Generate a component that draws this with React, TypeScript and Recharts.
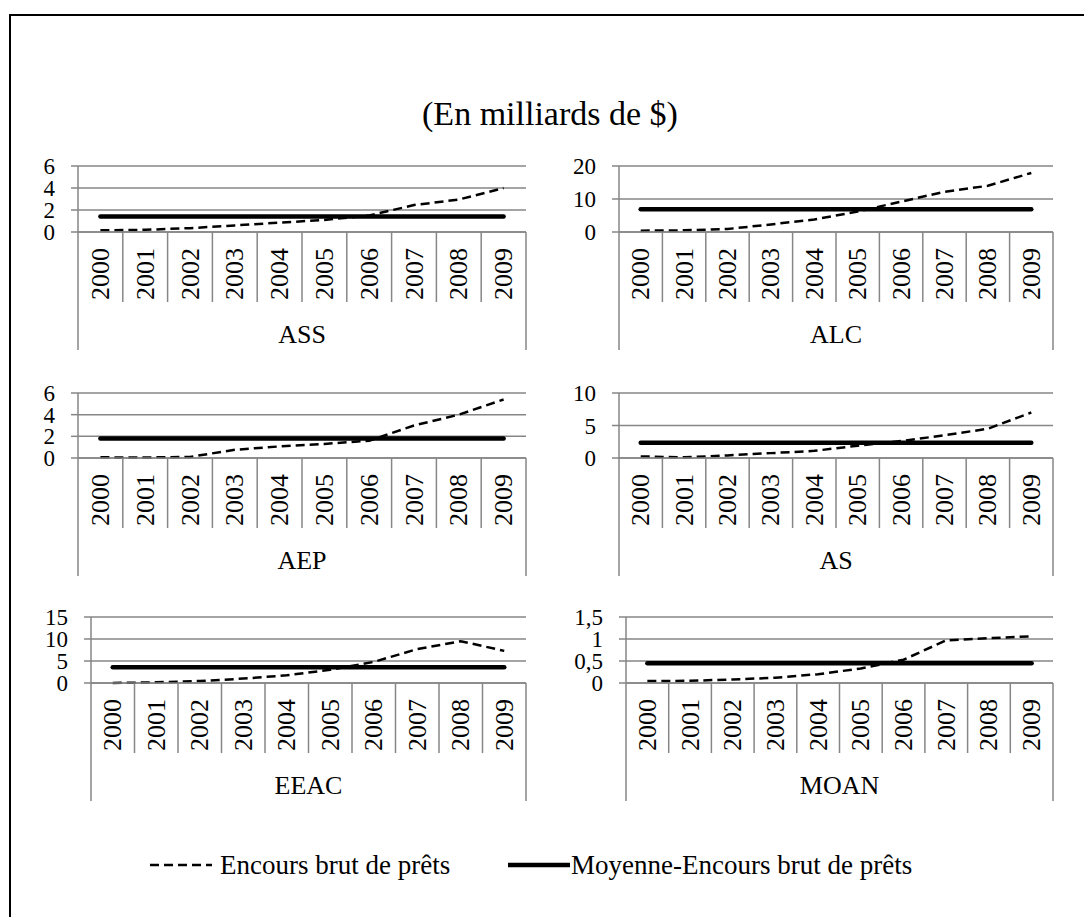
import { LineChart, Line, XAxis, YAxis, CartesianGrid } from "recharts";

const years = ["2000", "2001", "2002", "2003", "2004", "2005", "2006", "2007", "2008", "2009"];
const regions = ["ASS", "ALC", "AEP", "AS", "EEAC", "MOAN"];

// Encours brut de prêts (milliards de $)
const encoursASS = [0.15, 0.2, 0.35, 0.6, 0.85, 1.1, 1.5, 2.45, 2.95, 4.0];
const encoursALC = [0.4, 0.5, 0.9, 2.3, 3.8, 6.2, 9.2, 12.2, 14.0, 17.9];
const encoursAEP = [0.06, 0.05, 0.1, 0.76, 1.07, 1.3, 1.6, 3.0, 4.0, 5.4];
const encoursAS = [0.25, 0.1, 0.4, 0.75, 1.1, 1.9, 2.6, 3.5, 4.5, 7.0];
const encoursEEAC = [0, 0.15, 0.45, 1.0, 1.75, 3.0, 4.8, 7.7, 9.5, 7.3];
const encoursMOAN = [0.045, 0.05, 0.08, 0.12, 0.2, 0.33, 0.53, 0.97, 1.02, 1.06];
const encours = [encoursASS, encoursALC, encoursAEP, encoursAS, encoursEEAC, encoursMOAN];

// Moyenne-Encours brut de prêts
const moyennes = [1.4, 6.9, 1.8, 2.35, 3.6, 0.45];

const yTicks = [
  [0, 2, 4, 6],
  [0, 10, 20],
  [0, 2, 4, 6],
  [0, 5, 10],
  [0, 5, 10, 15],
  [0, 0.5, 1, 1.5],
];

const legendLabels = ["Encours brut de prêts", "Moyenne-Encours brut de prêts"];

// plot boxes in page pixels
const boxes = [
  { left: 78, right: 526, top: 166, bottom: 232 },
  { left: 619, right: 1053, top: 166, bottom: 232 },
  { left: 78, right: 526, top: 393, bottom: 458 },
  { left: 619, right: 1053, top: 393, bottom: 458 },
  { left: 91, right: 526, top: 617, bottom: 683 },
  { left: 626, right: 1053, top: 617, bottom: 683 },
];

const FONT = "'Liberation Serif', 'Times New Roman', serif";
const GRAY = "#868686";

const YW = 70;
const MT = 14;
const MR = 6;
const XH = 124;
const MB = 2;

function Panel({ i }: { i: number }) {
  const b = boxes[i];
  const plotW = b.right - b.left;
  const plotH = b.bottom - b.top;
  const band = plotW / 10;
  const chartW = YW + plotW + MR;
  const chartH = MT + plotH + XH + MB;
  const y0 = MT + plotH;
  const ticks = yTicks[i];
  const data = years.map((y, k) => ({
    year: y,
    encours: encours[i][k],
    moyenne: moyennes[i],
  }));

  const renderTick = (p: any) => {
    const x = p.x;
    const idx = p.index;
    const ty = y0 + 42;
    return (
      <g>
        <line x1={x - band / 2} x2={x - band / 2} y1={y0} y2={y0 + (idx === 0 ? 118 : 70)} stroke={GRAY} strokeWidth={1.5} />
        {idx === 9 && (
          <line x1={x + band / 2} x2={x + band / 2} y1={y0} y2={y0 + 118} stroke={GRAY} strokeWidth={1.5} />
        )}
        <text
          x={x}
          y={ty}
          transform={`rotate(-90, ${x}, ${ty})`}
          textAnchor="middle"
          dominantBaseline="central"
          fontSize={26}
          fontFamily={FONT}
          fill="#000"
        >
          {p.payload.value}
        </text>
        {idx === 0 && (
          <text
            x={YW + plotW / 2}
            y={y0 + 102}
            textAnchor="middle"
            dominantBaseline="central"
            fontSize={26}
            fontFamily={FONT}
            fill="#000"
          >
            {regions[i]}
          </text>
        )}
      </g>
    );
  };

  return (
    <div style={{ position: "absolute", left: b.left - YW, top: b.top - MT }}>
      <LineChart width={chartW} height={chartH} data={data} margin={{ top: MT, right: MR, left: 0, bottom: MB }}>
        <CartesianGrid vertical={false} stroke={GRAY} strokeWidth={1.5} />
        <XAxis
          dataKey="year"
          type="category"
          interval={0}
          height={XH}
          padding={{ left: band / 2, right: band / 2 }}
          axisLine={{ stroke: GRAY, strokeWidth: 1.5 }}
          tickLine={false}
          tick={renderTick}
        />
        <YAxis
          width={YW}
          domain={[0, ticks[ticks.length - 1]]}
          ticks={ticks}
          interval={0}
          tickFormatter={(v: number) => String(v).replace(".", ",")}
          tick={{ fill: "#000", fontSize: 23, fontFamily: FONT }}
          tickLine={{ stroke: GRAY, strokeWidth: 1.5 }}
          tickSize={7}
          tickMargin={16}
          axisLine={{ stroke: GRAY, strokeWidth: 1.5 }}
        />
        <Line
          dataKey="moyenne"
          stroke="#000"
          strokeWidth={4.5}
          strokeLinecap="round"
          dot={false}
          isAnimationActive={false}
        />
        <Line
          dataKey="encours"
          stroke="#000"
          strokeWidth={2.5}
          strokeDasharray="9 5"
          dot={false}
          isAnimationActive={false}
        />
      </LineChart>
    </div>
  );
}

export default function App() {
  return (
    <div
      style={{
        position: "absolute",
        left: 0,
        top: 0,
        width: 1084,
        height: 917,
        overflow: "hidden",
        background: "#fff",
        fontFamily: FONT,
      }}
    >
      <div
        style={{
          position: "absolute",
          left: 9,
          top: 14,
          width: 1200,
          height: 1000,
          borderLeft: "2px solid #000",
          borderTop: "2px solid #000",
        }}
      />
      <div
        style={{
          position: "absolute",
          left: 0,
          width: 1100,
          top: 94,
          textAlign: "center",
          fontSize: 34,
          lineHeight: "40px",
          color: "#000",
        }}
      >
        (En milliards de $)
      </div>
      {regions.map((r, i) => (
        <Panel key={r} i={i} />
      ))}
      <svg style={{ position: "absolute", left: 0, top: 846 }} width={1084} height={40}>
        <line x1={150} x2={212} y1={19} y2={19} stroke="#000" strokeWidth={2.5} strokeDasharray="9 5" />
        <line x1={508} x2={570} y1={19} y2={19} stroke="#000" strokeWidth={4.5} />
      </svg>
      <div style={{ position: "absolute", left: 220, top: 849, fontSize: 27, lineHeight: "32px", whiteSpace: "nowrap" }}>
        {legendLabels[0]}
      </div>
      <div style={{ position: "absolute", left: 571, top: 849, fontSize: 27, lineHeight: "32px", whiteSpace: "nowrap" }}>
        {legendLabels[1]}
      </div>
    </div>
  );
}
